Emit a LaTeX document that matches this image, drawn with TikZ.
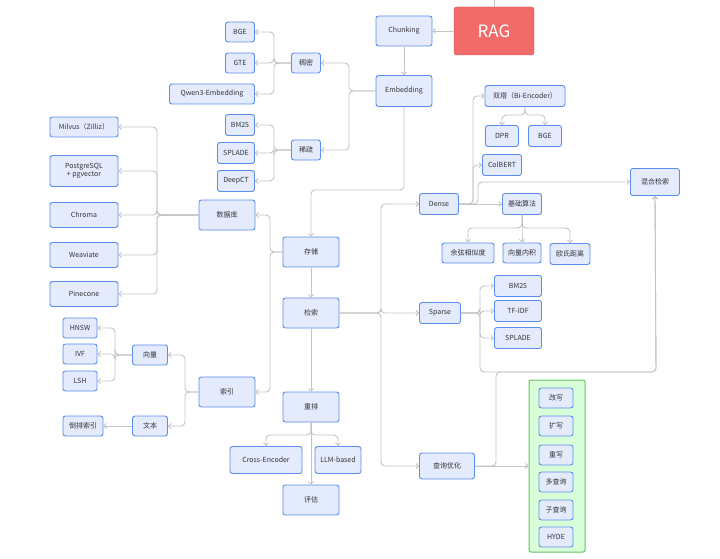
\documentclass[tikz,border=0pt]{standalone}
\usepackage{fontspec}
\setmainfont{Noto Sans CJK SC}
\usetikzlibrary{arrows.meta}
\definecolor{bfill}{HTML}{E3EBFD}
\definecolor{bline}{HTML}{5B8DEF}
\definecolor{cline}{HTML}{C4C4C4}
\definecolor{ragc}{HTML}{F26B6B}
\begin{document}
\begin{tikzpicture}[x=1pt,y=-1pt,
 box/.style={draw=bline,fill=bfill,line width=0.9pt,rounded corners=2.5pt,inner sep=1pt,font=\fontsize{7}{8}\selectfont,text=black!80,align=center},
 arr/.style={draw=cline,line width=0.9pt,rounded corners=4pt,-{Straight Barb[length=2.5pt,width=5pt]}},
 ln/.style={draw=cline,line width=0.9pt,rounded corners=4pt}]
\useasboundingbox (0,0) rectangle (720,559);
\fill[white] (0,0) rectangle (720,559);
% green container
\node[draw=green!60!black!60,fill=green!15,line width=1pt,rounded corners=2pt,minimum width=56,minimum height=172] (qbox) at (557,466) {};
% nodes
\node[draw=ragc!80!black,fill=ragc,rounded corners=2.5pt,minimum width=80,minimum height=48,text=white,font=\fontsize{17}{20}\selectfont] (rag) at (494,31) {RAG};
\node[box,minimum width=56,minimum height=30] (chunk) at (404,31) {Chunking};
\node[box,minimum width=56,minimum height=31] (emb) at (404,91) {Embedding};
\node[box,minimum width=29,minimum height=20] (dense1) at (306,63) {稠密};
\node[box,minimum width=29,minimum height=20] (sparse1) at (306,150) {稀疏};
\node[box,minimum width=29,minimum height=20] (bge) at (240,32) {BGE};
\node[box,minimum width=29,minimum height=20] (gte) at (240,63) {GTE};
\node[box,minimum width=85,minimum height=20] (qwen) at (212,94) {Qwen3-Embedding};
\node[box,minimum width=29,minimum height=21] (bm1) at (240,125) {BM25};
\node[box,minimum width=37,minimum height=21] (spl1) at (236,153) {SPLADE};
\node[box,minimum width=37,minimum height=21] (dct) at (236,181) {DeepCT};
\node[box,minimum width=56,minimum height=30] (db) at (227,215) {数据库};
\node[box,minimum width=68,minimum height=20] (milvus) at (84,127) {Milvus（Zilliz）};
\node[box,minimum width=68,minimum height=31,font=\fontsize{7}{7.5}\selectfont] (pg) at (84,171) {PostgreSQL\\+ pgvector};
\node[box,minimum width=68,minimum height=25] (chroma) at (84,215) {Chroma};
\node[box,minimum width=68,minimum height=25] (weav) at (84,255) {Weaviate};
\node[box,minimum width=68,minimum height=25] (pine) at (84,294) {Pinecone};
\node[box,minimum width=56,minimum height=30] (store) at (311,252) {存储};
\node[box,minimum width=56,minimum height=30] (retr) at (311,313) {检索};
\node[box,minimum width=56,minimum height=30] (rerank) at (311,407) {重排};
\node[box,minimum width=56,minimum height=30] (eval) at (311,500) {评估};
\node[box,minimum width=72,minimum height=27] (cross) at (266,460) {Cross-Encoder};
\node[box,minimum width=46,minimum height=27] (llm) at (338,460) {LLM-based};
\node[box,minimum width=56,minimum height=30] (idx) at (227,392) {索引};
\node[box,minimum width=35,minimum height=20] (vec) at (150,355) {向量};
\node[box,minimum width=35,minimum height=20] (txt) at (150,426) {文本};
\node[box,minimum width=34,minimum height=20] (hnsw) at (80,328) {HNSW};
\node[box,minimum width=34,minimum height=20] (ivf) at (80,354) {IVF};
\node[box,minimum width=34,minimum height=20] (lsh) at (80,381) {LSH};
\node[box,minimum width=40,minimum height=20] (inv) at (83,426) {倒排索引};
\node[box,minimum width=39,minimum height=21] (dense) at (439,204) {Dense};
\node[box,minimum width=39,minimum height=21] (algo) at (522,204) {基础算法};
\node[box,minimum width=80,minimum height=21] (bi) at (525,96) {双塔（Bi-Encoder）};
\node[box,minimum width=33,minimum height=21] (dpr) at (502,136) {DPR};
\node[box,minimum width=33,minimum height=21] (bge2) at (545,136) {BGE};
\node[box,minimum width=39,minimum height=21] (colb) at (502,165) {ColBERT};
\node[box,minimum width=49,minimum height=27] (hyb) at (655,182) {混合检索};
\node[box,minimum width=52,minimum height=20] (cos) at (468,253) {余弦相似度};
\node[box,minimum width=38,minimum height=20] (dot) at (522,253) {向量内积};
\node[box,minimum width=40,minimum height=21] (euc) at (570,254) {欧氏距离};
\node[box,minimum width=41,minimum height=21] (sparse) at (440,313) {Sparse};
\node[box,minimum width=47,minimum height=21] (bm2) at (518,286) {BM25};
\node[box,minimum width=47,minimum height=21] (tfidf) at (518,311) {TF-IDF};
\node[box,minimum width=47,minimum height=21] (spl2) at (518,338) {SPLADE};
\node[box,minimum width=55,minimum height=26] (qopt) at (447,466) {查询优化};
\node[box,minimum width=34,minimum height=20] (q1) at (556,398) {改写};
\node[box,minimum width=34,minimum height=20] (q2) at (556,426) {扩写};
\node[box,minimum width=34,minimum height=20] (q3) at (556,455) {重写};
\node[box,minimum width=34,minimum height=20] (q4) at (556,482) {多查询};
\node[box,minimum width=34,minimum height=20] (q5) at (556,510) {子查询};
\node[box,minimum width=34,minimum height=20] (q6) at (556,537) {HYDE};
% connectors
\coordinate (top) at (494,0);
\draw[ln] (top) -- (rag.north);
\draw[arr] (rag.west) -- (chunk.east);
\draw[arr] (chunk.south) -- (emb.north);
\draw[arr] (emb.west) -- (349,91) |- (dense1.east);
\draw[arr] (emb.west) -- (349,91) |- (sparse1.east);
\foreach \t in {bge,gte,qwen} \draw[arr] (dense1.west) -- (274,63) |- (\t.east);
\foreach \t in {bm1,spl1,dct} \draw[arr] (sparse1.west) -- (274,150) |- (\t.east);
\draw[arr] (emb.south) -- (404,190) -| (store.north);
\draw[arr] (store.west) -- (270,252) |- (db.east);
\draw[arr] (store.west) -- (270,252) |- (idx.east);
\foreach \t in {milvus,pg,chroma,weav,pine} \draw[arr] (db.west) -- (157,215) |- (\t.east);
\draw[arr] (store.south) -- (retr.north);
\draw[arr] (retr.south) -- (rerank.north);
\draw[arr] (idx.west) -- (185,392) |- (vec.east);
\draw[arr] (idx.west) -- (185,392) |- (txt.east);
\foreach \t in {hnsw,ivf,lsh} \draw[arr] (vec.west) -- (115,355) |- (\t.east);
\draw[arr] (txt.west) -- (inv.east);
\foreach \t in {dense,sparse,qopt} \draw[arr] (retr.east) -- (381,313) |- (\t.east -| \t.west);
\draw[arr] (dense.east) -- (473,204) |- (bi.west);
\draw[arr] (dense.east) -- (473,204) |- (colb.west);
\draw[arr] (dense.east) -- (algo.west);
\draw[arr] (dense.east) -- (478,204) |- (hyb.west);
\draw[arr] (bi.south) -- (525,115) -| (dpr.north);
\draw[arr] (bi.south) -- (525,115) -| (bge2.north);
\foreach \t in {cos,dot,euc} \draw[arr] (algo.south) -- (522,228) -| (\t.north);
\foreach \t in {bm2,tfidf,spl2} \draw[arr] (sparse.east) -- (480,313) |- (\t.west);
\draw[arr] (sparse.east) -- (480,313) |- (656,372) -- (hyb.south);
\draw[arr] (qopt.east) -- (496,466) |- (656,372) -- (hyb.south);
\draw[arr] (qopt.east) -- (qbox.west);
\foreach \t in {cross,llm} \draw[arr] (rerank.south) -- (311,435) -| (\t.north);
\draw[arr] (rerank.south) -- (eval.north);
\end{tikzpicture}
\end{document}
